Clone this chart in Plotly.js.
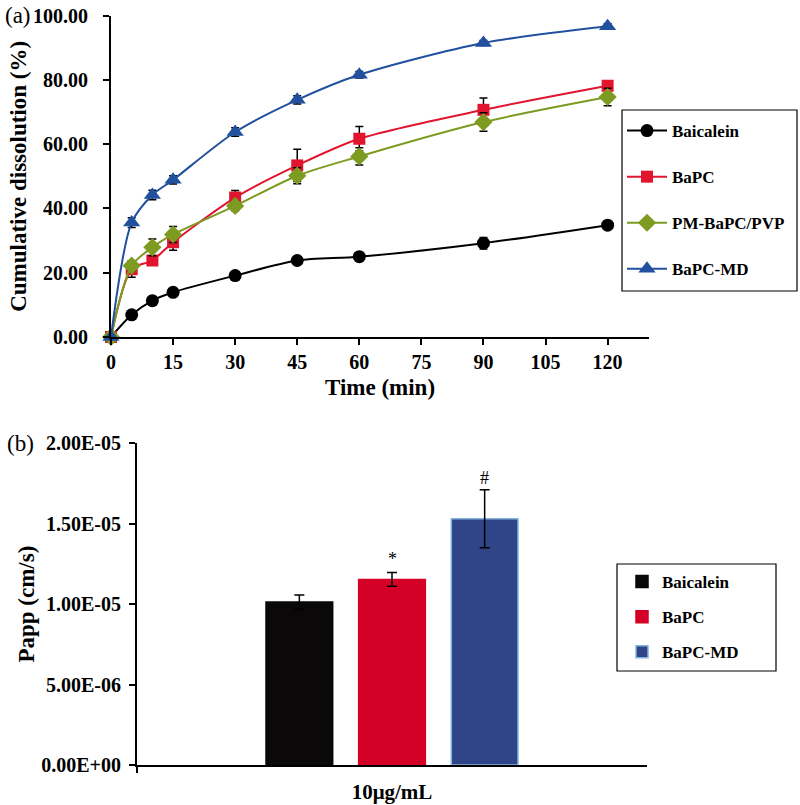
<!DOCTYPE html>
<html>
<head>
<meta charset="utf-8">
<script src="https://cdn.plot.ly/plotly-3.0.1.min.js"></script>
<style>html,body{margin:0;padding:0;background:#fff;}#chart{width:800px;height:805px;}</style>
</head>
<body>
<div id="chart"></div>
<script>
// ---- Panel (a): cumulative dissolution ----
const timeMin = [0, 5, 10, 15, 30, 45, 60, 90, 120];
const baicalein = [0, 6.9, 11.3, 13.9, 19.1, 23.8, 25.0, 29.2, 34.8];
const baicaleinErr = [0, 0.5, 0.5, 0.5, 0.5, 0.5, 0.5, 1.8, 0.8];
const bapc = [0, 21.1, 23.8, 29.5, 43.4, 53.4, 61.7, 70.7, 78.2];
const bapcErr = [0, 2.5, 1.5, 2.5, 2.2, 5.0, 3.8, 3.7, 1.5];
const pmBapcPvp = [0, 22.2, 27.9, 31.9, 40.8, 50.2, 56.2, 66.9, 74.7];
const pmBapcPvpErr = [0, 1.5, 2.6, 2.5, 1.5, 2.5, 2.7, 2.9, 2.7];
const bapcMd = [0, 35.6, 44.2, 48.9, 63.8, 73.8, 81.6, 91.5, 96.7];
const bapcMdErr = [0, 1.5, 1.5, 1.3, 1.3, 1.3, 1.0, 0.8, 0.8];

// ---- Panel (b): Papp ----
const concCategory = ["10μg/mL"];
const pappNames = ["Baicalein", "BaPC", "BaPC-MD"];
const pappValues = [1.013e-5, 1.154e-5, 1.531e-5];
const pappErr = [0.044e-5, 0.043e-5, 0.18e-5];
const pappTickVals = [0, 5e-6, 1e-5, 1.5e-5, 2e-5];
const pappTickText = ["0.00E+00", "5.00E-06", "1.00E-05", "1.50E-05", "2.00E-05"];

const FONT = "Liberation Serif, Times New Roman, serif";

function lineTrace(name, y, err, color, symbol, size, group) {
  return {
    type: "scatter", mode: "lines+markers", name: name,
    x: timeMin, y: y,
    line: {color: color, width: 2, shape: "spline", smoothing: 0.8},
    marker: {color: color, symbol: symbol, size: size},
    error_y: {type: "data", array: err, visible: true, color: "#000", thickness: 1.5, width: 4},
    xaxis: "x", yaxis: "y", legend: "legend", legendgroup: group,
    cliponaxis: false
  };
}

const barColors = ["#0a0809", "#d50025", "#2f4587"];
const barLines = ["#0a0809", "#d50025", "#86b4e0"];

const traces = [
  lineTrace("Baicalein", baicalein, baicaleinErr, "#000000", "circle", 13, "g1"),
  lineTrace("BaPC", bapc, bapcErr, "#e2152e", "square", 12, "g2"),
  lineTrace("PM-BaPC/PVP", pmBapcPvp, pmBapcPvpErr, "#7d9a21", "diamond", 14, "g3"),
  lineTrace("BaPC-MD", bapcMd, bapcMdErr, "#21509e", "triangle-up", 15, "g4")
];

pappNames.forEach(function (n, i) {
  traces.push({
    type: "bar", name: n, x: concCategory, y: [pappValues[i]],
    marker: {color: barColors[i], line: {color: barLines[i], width: 1.5}},
    error_y: {type: "data", array: [pappErr[i]], visible: true, color: "#000", thickness: 1.5, width: 5},
    xaxis: "x2", yaxis: "y2", legend: "legend2", legendgroup: "b" + i
  });
});

const axisCommon = {
  showgrid: false, zeroline: false, showline: true, linecolor: "#000", linewidth: 2,
  ticks: "outside", ticklen: 6, tickwidth: 2, tickcolor: "#000",
  tickfont: {family: FONT, size: 20, color: "#000", weight: "bold"},
  automargin: false
};

function px(x) { return x / 800; }
function py(y) { return 1 - y / 805; }

const layout = {
  width: 800, height: 805,
  margin: {l: 0, r: 0, t: 0, b: 0},
  paper_bgcolor: "#fff", plot_bgcolor: "rgba(0,0,0,0)",
  font: {family: FONT, color: "#000"},
  showlegend: true,
  barmode: "group", bargap: 0.455, bargroupgap: 0.28,
  xaxis: Object.assign({}, axisCommon, {
    domain: [0.13875, 0.81125], range: [0, 130], tickmode: "linear", tick0: 0, dtick: 15,
    anchor: "y",
    title: {text: "Time (min)", font: {family: FONT, size: 23, weight: "bold"}, standoff: 7}
  }),
  yaxis: Object.assign({}, axisCommon, {
    domain: [0.5814, 0.9805], range: [0, 100], tickmode: "linear", tick0: 0, dtick: 20,
    tickformat: ".2f", anchor: "x", ticklabelstandoff: 11,
    title: {text: "Cumulative dissolution (%)", font: {family: FONT, size: 23, weight: "bold"}, standoff: 0}
  }),
  xaxis2: Object.assign({}, axisCommon, {
    domain: [0.17125, 0.80875], type: "category", anchor: "y2", tickson: "boundaries",
    ticklabelstandoff: 7,
    tickfont: {family: FONT, size: 21, color: "#000", weight: "bold"}
  }),
  yaxis2: Object.assign({}, axisCommon, {
    domain: [0.0497, 0.4493], range: [0, 2e-5], tickmode: "array",
    tickvals: pappTickVals, ticktext: pappTickText, anchor: "x2", ticklabelstandoff: 4,
    title: {text: "Papp (cm/s)", font: {family: FONT, size: 23, weight: "bold"}, standoff: 0}
  }),
  legend: {
    x: px(622), y: py(113), xanchor: "left", yanchor: "top",
    xref: "paper", yref: "paper",
    borderwidth: 0, bgcolor: "rgba(0,0,0,0)",
    font: {family: FONT, size: 17, weight: "bold", color: "#000"},
    traceorder: "grouped", tracegroupgap: 21, itemwidth: 40
  },
  legend2: {
    x: px(622), y: py(564), xanchor: "left", yanchor: "top",
    xref: "paper", yref: "paper",
    borderwidth: 0, bgcolor: "rgba(0,0,0,0)",
    font: {family: FONT, size: 17, weight: "bold", color: "#000"},
    traceorder: "grouped", tracegroupgap: 10, itemwidth: 30
  },
  shapes: [
    {type: "rect", xref: "paper", yref: "paper", x0: px(622), x1: px(797), y0: py(110), y1: py(291),
     line: {color: "#000", width: 1.2}, fillcolor: "rgba(0,0,0,0)", layer: "below"},
    {type: "rect", xref: "paper", yref: "paper", x0: px(617), x1: px(776), y0: py(564), y1: py(671),
     line: {color: "#000", width: 1.2}, fillcolor: "rgba(0,0,0,0)", layer: "below"}
  ],
  annotations: [
    {text: "(a)", x: px(3), y: py(15), xref: "paper", yref: "paper", xanchor: "left", yanchor: "middle",
     showarrow: false, font: {family: FONT, size: 23, color: "#000"}},
    {text: "(b)", x: px(5), y: py(443), xref: "paper", yref: "paper", xanchor: "left", yanchor: "middle",
     showarrow: false, font: {family: FONT, size: 23, color: "#000"}},
    {text: "*", x: px(392), y: py(559), xref: "paper", yref: "paper", xanchor: "center", yanchor: "middle",
     showarrow: false, font: {family: FONT, size: 18, color: "#000"}},
    {text: "#", x: px(485), y: py(478), xref: "paper", yref: "paper", xanchor: "center", yanchor: "middle",
     showarrow: false, font: {family: FONT, size: 18, color: "#000"}}
  ]
};

Plotly.newPlot("chart", traces, layout, {displayModeBar: false, staticPlot: true});
</script>
</body>
</html>
